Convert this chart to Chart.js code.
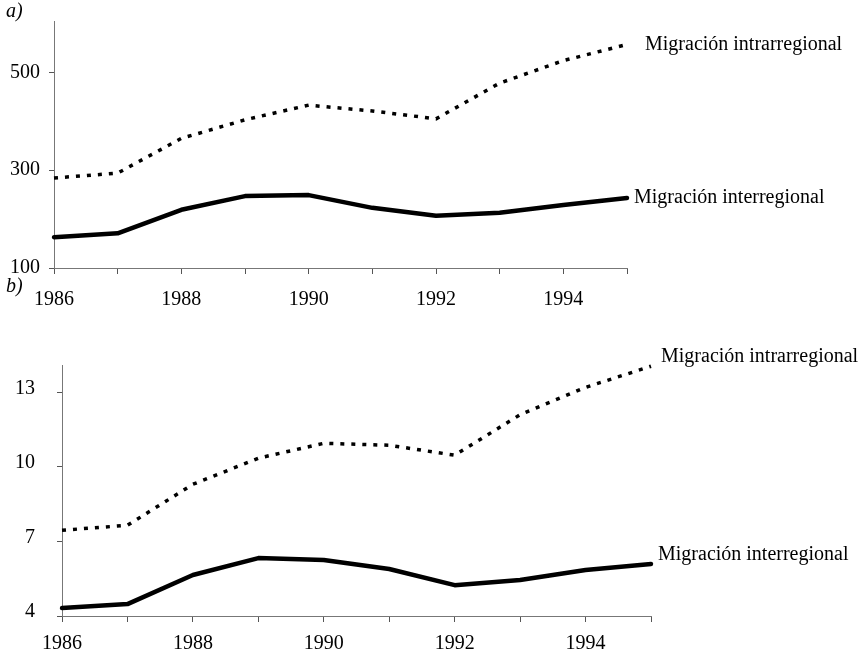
<!DOCTYPE html>
<html>
<head>
<meta charset="utf-8">
<script src="https://cdn.jsdelivr.net/npm/chart.js@4"></script>
<style>
  html, body { margin: 0; padding: 0; background: #fff; }
  #wrap { position: relative; width: 863px; height: 656px; overflow: hidden; }
  .panel { position: absolute; left: 0; width: 863px; }
  #boxA { top: 0; height: 320px; }
  #boxB { top: 320px; height: 336px; }
  .tag { position: absolute; left: 6px; font: italic 20px 'Liberation Serif', serif; color: #000; }
</style>
</head>
<body>
<div id="wrap">
  <div class="panel" id="boxA"><canvas id="chartA"></canvas></div>
  <div class="panel" id="boxB"><canvas id="chartB"></canvas></div>
  <span class="tag" style="top:-1px">a)</span>
  <span class="tag" style="top:274px">b)</span>
</div>
<script>
// Datos
const years = ['1986', '1987', '1988', '1989', '1990', '1991', '1992', '1993', '1994', '1995'];
const yearLabels = ['1986', '1988', '1990', '1992', '1994'];

const intraA = [284, 294, 365, 403, 433, 421, 405, 478, 524, 557];
const interA = [163, 171, 219, 247, 249, 223, 207, 213, 229, 243];
const ticksA = [100, 300, 500];

const intraB = [7.45, 7.65, 9.3, 10.35, 10.95, 10.87, 10.47, 12.1, 13.2, 14.05];
const interB = [4.32, 4.48, 5.65, 6.33, 6.25, 5.89, 5.24, 5.45, 5.85, 6.09];
const ticksB = [4, 7, 10, 13];

const seriesNames = ['Migración intrarregional', 'Migración interregional'];

Chart.defaults.color = '#000';
Chart.defaults.font.family = "'Liberation Serif', 'Times New Roman', serif";
Chart.defaults.font.size = 20;

// etiqueta al final de cada serie
const endLabels = {
    id: 'endLabels',
    afterDatasetsDraw(chart) {
        const ctx = chart.ctx;
        ctx.save();
        ctx.fillStyle = '#000';
        ctx.font = "20px 'Liberation Serif', serif";
        ctx.textAlign = 'left';
        ctx.textBaseline = 'middle';
        chart.data.datasets.forEach((ds, i) => {
            const meta = chart.getDatasetMeta(i);
            const pt = meta.data[meta.data.length - 1];
            if (!pt) return;
            const off = ds.endOffset || [8, 0];
            ctx.fillText(ds.label, pt.x + off[0], pt.y + off[1]);
        });
        ctx.restore();
    }
};

function makeChart(id, intra, inter, yTicks, cfg) {
    const ctx = document.getElementById(id).getContext('2d');
    return new Chart(ctx, {
        type: 'line',
        data: {
            labels: years,
            datasets: [{
                label: seriesNames[0],
                data: intra,
                borderColor: '#000',
                borderWidth: 3.5,
                borderDash: [4, 7],
                pointRadius: 0,
                tension: 0,
                clip: false,
                endOffset: cfg.offIntra
            }, {
                label: seriesNames[1],
                data: inter,
                borderColor: '#000',
                borderWidth: 4.5,
                borderCapStyle: 'round',
                borderJoinStyle: 'round',
                pointRadius: 0,
                tension: 0,
                clip: false,
                endOffset: cfg.offInter
            }]
        },
        options: {
            responsive: true,
            maintainAspectRatio: false,
            animation: false,
            layout: {
                padding: { top: cfg.padTop, right: cfg.padRight, left: 0, bottom: 0 }
            },
            plugins: {
                legend: { display: false },
                tooltip: { enabled: false }
            },
            scales: {
                x: {
                    offset: false,
                    border: { color: '#777', width: 1 },
                    grid: { drawOnChartArea: false, drawTicks: true, tickLength: 6, color: '#555' },
                    ticks: {
                        autoSkip: false,
                        maxRotation: 0,
                        padding: cfg.xPad,
                        callback: (v, i) => yearLabels.includes(years[i]) ? years[i] : ''
                    },
                    afterFit: (s) => { s.height = cfg.xHeight; }
                },
                y: {
                    min: cfg.yMin,
                    max: cfg.yMax,
                    border: { color: '#777', width: 1 },
                    grid: { drawOnChartArea: false, drawTicks: true, tickLength: 5, color: '#555' },
                    ticks: { padding: cfg.yPad, labelOffset: cfg.yLabelOffset },
                    afterBuildTicks: (s) => { s.ticks = yTicks.map(v => ({ value: v })); },
                    afterFit: (s) => { s.width = cfg.yWidth; }
                }
            }
        },
        plugins: [endLabels]
    });
}

makeChart('chartA', intraA, interA, ticksA, {
    yMin: 100, yMax: 605, padTop: 20, padRight: 236,
    xHeight: 52, yWidth: 54, xPad: 14, yPad: 9, yLabelOffset: 0,
    offIntra: [18, 0], offInter: [7, 0]
});

makeChart('chartB', intraB, interB, ticksB, {
    yMin: 4, yMax: 14.1, padTop: 45, padRight: 212,
    xHeight: 40, yWidth: 62, xPad: 10, yPad: 22, yLabelOffset: -4,
    offIntra: [10, -9], offInter: [7, -9]
});
</script>
</body>
</html>
